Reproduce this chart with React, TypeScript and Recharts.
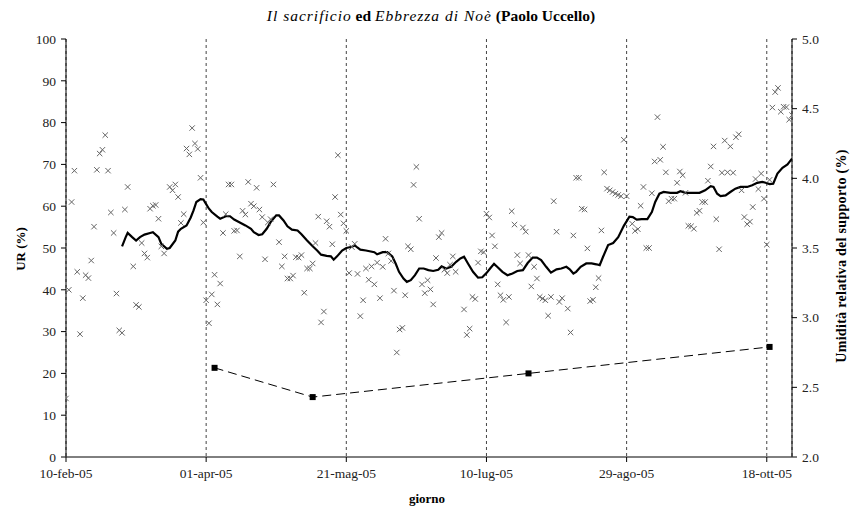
import React from 'react';
import {
  ComposedChart,
  Scatter,
  Line,
  XAxis,
  YAxis,
  CartesianGrid,
} from 'recharts';

// giorni contati dal 10-feb-05
const xTickDays = [0, 50, 100, 150, 200, 250];
const xTickLabels = ['10-feb-05', '01-apr-05', '21-mag-05', '10-lug-05', '29-ago-05', '18-ott-05'];
const urTicks = [0, 10, 20, 30, 40, 50, 60, 70, 80, 90, 100];
const supportoTicks = [2.0, 2.5, 3.0, 3.5, 4.0, 4.5, 5.0];

// UR giornaliera (crocette)
const urDays = [
  0, 1, 2, 3, 4, 5, 6, 7, 8, 9, 10, 11, 12, 13, 14, 15, 16, 17, 18, 19, 20, 21, 22, 24, 25, 26, 27, 28, 29,
  30, 31, 32, 33, 34, 35, 37, 38, 39, 40, 41, 42, 43, 44, 45, 46, 47, 48, 49, 50, 51, 52, 53, 54, 55, 56,
  57, 58, 59, 60, 61, 62, 63, 64, 65, 66, 67, 68, 69, 70, 71, 72, 73, 74, 76, 77, 78, 79, 80, 81, 82, 83,
  84, 85, 86, 87, 88, 89, 90, 91, 92, 93, 94, 95, 96, 97, 98, 99, 100, 101, 102, 103, 104, 105, 106, 107,
  108, 109, 110, 111, 112, 113, 114, 115, 116, 117, 118, 119, 120, 121, 122, 123, 124, 125, 126, 127, 128,
  129, 130, 131, 132, 133, 134, 135, 136, 137, 138, 139, 142, 143, 144, 145, 146, 147, 148, 149, 150, 151,
  152, 153, 154, 155, 156, 157, 158, 159, 160, 161, 162, 163, 164, 165, 166, 167, 168, 169, 170, 171, 172,
  173, 174, 175, 176, 177, 179, 180, 181, 182, 183, 184, 185, 186, 187, 188, 189, 190, 191, 192, 193, 194,
  195, 196, 197, 198, 199, 200, 202, 203, 204, 205, 206, 207, 208, 209, 210, 211, 212, 213, 214, 215, 216,
  217, 218, 219, 220, 221, 222, 223, 224, 225, 226, 227, 228, 229, 230, 231, 232, 233, 234, 235, 236, 237,
  238, 239, 240, 241, 242, 243, 244, 245, 246, 247, 248, 249, 250, 251, 252, 253, 254, 255, 256, 257, 258, 259,
];
const urValues = [
  14, 40, 61, 68.5, 44.3, 29.4, 38, 43.5, 42.8, 47, 55.1, 68.7, 72.6, 73.5, 77, 68.5, 58.5, 53.6, 39.1, 30.3,
  29.7, 59.2, 64.6, 45.6, 36.4, 35.9, 51.2, 48.7, 47.7,
  59.4, 60.1, 60.3, 57, 50.4, 48.7, 64.6, 63.8, 65.2, 62.2, 56, 58.1, 73.8, 72.4, 78.7, 75, 73.7, 66.8, 56.1,
  37.5, 32, 38.9, 43.6, 36.5, 41.5, 53.6,
  58.1, 65.2, 65.2, 54.1, 54.2, 48, 58.9, 58, 65.8, 60.6, 60, 64.4, 59.2, 57.4, 47.3, 56.1, 56.9, 65.2, 51.4,
  45.6, 48, 42.7, 42.7, 43.4, 47.8, 47.7,
  48.3, 39.3, 45.1, 45.1, 46.3, 51.2, 57.5, 32.2, 34.8, 56.4, 55.1, 50.9, 62.2, 72.2, 58, 55.9, 54.1, 44,
  50.2, 51, 43.8, 33.7, 37.5, 45.1,
  42.4, 45.6, 41.3, 46.5, 38, 45.5, 52.2, 48.7, 46.9, 39.8, 25, 30.5, 30.9, 38.7, 50.4, 49.7, 65.1, 69.4, 57,
  41.3, 39.2,
  42.3, 40.1, 36.5, 47.6, 52.6, 53.6, 44.8, 44, 46, 48, 44.3, 35.3, 29.2, 30.7, 38.3, 37.8, 46.5, 49.2, 49,
  58.2, 57.3,
  53, 50.4, 41.3, 38.7, 37.6, 32.2, 38.3, 58.8, 55.6, 48.3, 46.3, 54.9, 53.9, 48.3, 40.8, 45.5, 42.7, 38.3,
  37.9, 37.5, 33.8,
  38.3, 61.2, 53.9, 37.1, 38, 35.5, 29.8, 53, 66.8, 66.8, 59.4, 59.2, 49.9, 37.3, 37.6, 40.6, 42.8, 54.2,
  68.1, 64.2, 63.8,
  63.4, 63, 62.7, 62.4, 75.9, 62.4, 55.8, 54.1, 54.5, 60.1, 64.6, 50, 50, 63.1, 70.7, 81.3, 71.1, 74.2, 68.1,
  61.2, 61.8,
  61.8, 65.6, 68.3, 67.4, 63.2, 55.3, 55.2, 54.6, 58.4, 58.9, 61, 61, 66.1, 69.5, 74.3, 56.9, 49.7, 68, 75.7,
  68.1, 74.3,
  68, 76.5, 77.2, 63.8, 57.4, 55.7, 56.3, 59.8, 66.5, 64.1, 67.8, 61.8, 50.8, 66.3, 83.6, 87.3, 88.3, 82.6,
  83.8, 83.7, 80.7, 81.8,
];

// media mobile (linea nera)
const mediaDays = [
  20, 21.3, 22, 23.6, 25, 26.4, 28, 30, 31, 33, 34, 36, 37, 39, 40, 41, 43, 44.5, 45.5, 46.5, 48, 49, 50, 51,
  52, 54, 55, 57, 58.5, 60, 62, 64, 66, 67, 68.7, 70, 71.6, 73, 75, 76, 77.6, 79, 80.6, 82.6, 84, 86, 88,
  89.6, 91, 93, 94.5, 95.5, 96.7, 98.5, 100, 102, 103, 105, 107, 110, 111, 113, 114.6, 116.4, 117.6, 118.8,
  120.4, 121.6, 123, 124.5, 126, 127.6, 129.3, 131, 132.8, 134, 135.6, 137.4, 139.2, 140.7, 142, 143.4,
  145.2, 147, 148.5, 150, 151.3, 152.7, 154, 155.7, 157.5, 159.3, 161, 163, 164.7, 166.5, 168, 169.5, 171.3,
  173, 175, 176.7, 178.5, 179.7, 181, 182, 183.6, 185.6, 187.5, 189.2, 190.4, 191.6, 193.4, 195.2, 197, 199,
  201, 202.2, 203.6, 205.4, 207.4, 209, 210.2, 211.7, 213.2, 215.6, 218, 219.2, 221, 226, 228, 230, 231,
  232.3, 233.5, 235.3, 237, 238.8, 240.6, 243, 244.8, 246.6, 248.4, 249.6, 251, 252.3, 253.8, 255.6, 257.4, 259,
];
const mediaValues = [
  50.4, 52.6, 53.6, 52.6, 51.8, 52.6, 53.2, 53.6, 53.8, 52.6, 51, 49.8, 50, 51.8, 53.9, 54.6, 55.4, 57.3, 59,
  61, 61.7, 61.6, 60.5, 59.4,
  58.6, 57.5, 57, 57.6, 57.6, 56.8, 56.1, 55.4, 54.6, 53.8, 53.1, 53.3, 54.6, 56.2, 57.8, 57.8, 56.6, 55.2,
  54.4, 54.2, 53.3, 51.8, 50.4,
  49.4, 48.4, 48.1, 48, 47.2, 48, 49.4, 50, 50.3, 50.6, 49.6, 49.4, 49, 48.5, 49, 49, 48, 46.3, 44.3,
  42.7, 41.9, 42.3, 43.5, 45.1, 45.1, 44.7, 44.5, 44.8, 45.6, 45.1, 45.5, 46.7, 47.5, 47.9, 46.3,
  44.3, 42.9, 43, 44, 45.1, 46.2, 45.4, 44.3, 43.5, 43.9, 44.5, 44.7, 46.4, 47.7, 47.7, 47.1, 45.5,
  44.1, 44.9, 45.1, 45.5, 44.9, 43.9, 44.3, 45.5, 46.3, 46.3, 46.1, 45.9, 47.9, 50.7, 51.2, 52.6, 55.3,
  57.5, 57.4, 56.8, 56.9, 56.9, 58.6, 61, 63, 63.4, 63.2, 63.2, 63.6, 63.2, 63.2, 63.8, 64.8, 64.6,
  63, 62.4, 62.6, 63.4, 64.2, 64.6, 64.6, 65, 65.6, 65.8, 65.6, 65.3, 65.4, 67.8, 69.2, 70, 71.4,
];

// umidità relativa del supporto (asse destro)
const supportoDays = [53, 88, 165, 251];
const supportoValues = [2.64, 2.43, 2.6, 2.79];

const urData = urDays.map((d, i) => ({ day: d, ur: urValues[i] }));
const mediaData = mediaDays.map((d, i) => ({ day: d, media: mediaValues[i] }));
const supportoData = supportoDays.map((d, i) => ({ day: d, supporto: supportoValues[i] }));

const SERIF = '"Liberation Serif", "Times New Roman", serif';
const tickStyle = { fontFamily: SERIF, fontSize: 13.5, fill: '#222' };

const Cross = (props: any) => {
  const { cx, cy } = props;
  if (cx == null || cy == null) return <g />;
  const s = 2.7;
  return (
    <g stroke="#666" strokeWidth={1}>
      <line x1={cx - s} y1={cy - s} x2={cx + s} y2={cy + s} />
      <line x1={cx - s} y1={cy + s} x2={cx + s} y2={cy - s} />
    </g>
  );
};

const SquareDot = (props: any) => {
  const { cx, cy, index } = props;
  return <rect key={`sq-${index}`} x={cx - 3} y={cy - 3} width={6} height={6} fill="#000" />;
};

export default function App() {
  return (
    <div style={{ position: 'absolute', left: 0, top: 0, width: 852, height: 515, background: '#fff' }}>
      <ComposedChart width={852} height={515} margin={{ top: 39, right: 0, bottom: 28, left: 0 }}>
        <CartesianGrid horizontal={false} stroke="#444" strokeDasharray="3 3" />
        <XAxis
          type="number"
          dataKey="day"
          domain={[0, 259]}
          ticks={xTickDays}
          tickFormatter={(v: number) => xTickLabels[xTickDays.indexOf(v)] ?? ''}
          tick={tickStyle}
          tickSize={5}
          tickMargin={6}
          height={30}
          stroke="#000"
          allowDataOverflow
        />
        <YAxis
          yAxisId="left"
          domain={[0, 100]}
          ticks={urTicks}
          tick={tickStyle}
          tickSize={5}
          tickMargin={5}
          width={66}
          stroke="#000"
          interval={0}
        />
        <YAxis
          yAxisId="right"
          orientation="right"
          domain={[2, 5]}
          ticks={supportoTicks}
          tickFormatter={(v: number) => v.toFixed(1)}
          tick={tickStyle}
          tickSize={5}
          tickMargin={5}
          width={60}
          stroke="#000"
          interval={0}
        />
        <Scatter
          yAxisId="left"
          data={urData}
          dataKey="ur"
          shape={Cross}
          isAnimationActive={false}
        />
        <Line
          yAxisId="left"
          data={mediaData}
          dataKey="media"
          type="linear"
          stroke="#000"
          strokeWidth={2.2}
          dot={false}
          isAnimationActive={false}
        />
        <Line
          yAxisId="right"
          data={supportoData}
          dataKey="supporto"
          type="linear"
          stroke="#000"
          strokeWidth={1}
          strokeDasharray="9 5"
          dot={SquareDot}
          isAnimationActive={false}
        />
      </ComposedChart>
      <svg
        width={852}
        height={515}
        style={{ position: 'absolute', left: 0, top: 0, pointerEvents: 'none' }}
        fontFamily={SERIF}
      >
        <text x={431} y={21} textAnchor="middle" fontSize={15.5} fill="#000">
          <tspan fontStyle="italic" letterSpacing={1}>Il sacrificio</tspan>
          <tspan fontWeight="bold">{'  ed '}</tspan>
          <tspan fontStyle="italic" letterSpacing={1}>Ebbrezza di Noè</tspan>
          <tspan fontWeight="bold">{'  (Paolo Uccello)'}</tspan>
        </text>
        <text
          x={0}
          y={0}
          transform="translate(25, 249) rotate(-90)"
          textAnchor="middle"
          fontSize={13}
          fontWeight="bold"
          fill="#000"
        >
          UR (%)
        </text>
        <text
          x={0}
          y={0}
          transform="translate(846, 256) rotate(-90)"
          textAnchor="middle"
          fontSize={14}
          fontWeight="bold"
          letterSpacing={0.3}
          fill="#000"
        >
          Umidità relativa del supporto (%)
        </text>
        <text x={427} y={503} textAnchor="middle" fontSize={13} fontWeight="bold" fill="#000">
          giorno
        </text>
      </svg>
    </div>
  );
}
